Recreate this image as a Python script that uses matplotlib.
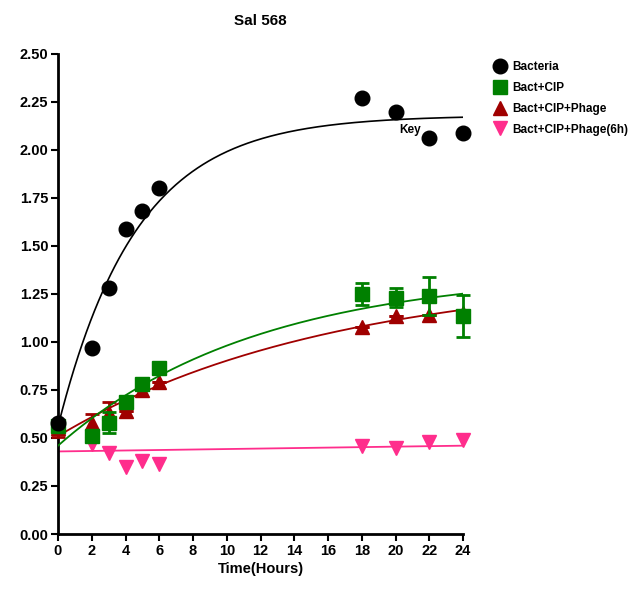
import numpy as np
import matplotlib
matplotlib.use('Agg')
import matplotlib.pyplot as plt
from matplotlib.lines import Line2D

plt.rcParams['font.family'] = ['Liberation Sans', 'DejaVu Sans']
plt.rcParams['font.weight'] = 'bold'

# data
t_bact = [0, 2, 3, 4, 5, 6, 18, 20, 22, 24]
y_bact = [0.58, 0.97, 1.28, 1.59, 1.68, 1.80, 2.27, 2.20, 2.06, 2.09]

t_cip = [0, 2, 3, 4, 5, 6, 18, 20, 22, 24]
y_cip = [0.56, 0.51, 0.58, 0.69, 0.78, 0.865, 1.25, 1.23, 1.24, 1.135]
e_cip = [0.0, 0.0, 0.055, 0.0, 0.0, 0.0, 0.055, 0.05, 0.10, 0.11]

t_phage = [0, 2, 3, 4, 5, 6, 18, 20, 22, 24]
y_phage = [0.55, 0.58, 0.63, 0.64, 0.75, 0.79, 1.08, 1.135, 1.14, 1.15]
e_phage = [0.045, 0.045, 0.06, 0.0, 0.0, 0.0, 0.0, 0.0, 0.0, 0.0]

t_p6 = [2, 3, 4, 5, 6, 18, 20, 22, 24]
y_p6 = [0.47, 0.42, 0.35, 0.38, 0.365, 0.46, 0.45, 0.48, 0.49]

# fitted one-phase curves (Y0, plateau, K) as seen on the chart
fit_bact = (0.56, 2.18, 0.215)
fit_cip = (0.46, 1.37, 0.085)
fit_phage = (0.51, 1.36, 0.062)
fit_p6 = (0.43, 0.46)  # straight line, start / end value

def one_phase(t, p):
    y0, top, k = p
    return top - (top - y0) * np.exp(-k * t)

tt = np.linspace(0, 24, 300)

fig = plt.figure(figsize=(6.32, 5.92), dpi=100)
ax = fig.add_axes([58/632, 1 - 534/592, (463-58)/632, (534-54)/592])

black = '#000000'
green = '#008000'
red = '#a00000'
pink = '#ff2d8c'
ms = 10.5

ax.plot(tt, fit_p6[0] + (fit_p6[1] - fit_p6[0]) * tt / 24, color=pink, lw=1.3, zorder=2)
ax.plot(t_p6, y_p6, 'v', color=pink, ms=ms, zorder=3, clip_on=False)

ax.errorbar(t_phage, y_phage, yerr=e_phage, fmt='^', color=red, ms=ms,
            capsize=5, elinewidth=2, capthick=2, zorder=4, clip_on=False)
ax.plot(tt, one_phase(tt, fit_phage), color=red, lw=1.3, zorder=5)

ax.errorbar(t_cip, y_cip, yerr=e_cip, fmt='s', color=green, ms=ms,
            capsize=5, elinewidth=2, capthick=2, zorder=6, clip_on=False)
ax.plot(tt, one_phase(tt, fit_cip), color=green, lw=1.3, zorder=7)

ax.plot(t_bact, y_bact, 'o', color=black, ms=ms, zorder=8, clip_on=False)
ax.plot(tt, one_phase(tt, fit_bact), color=black, lw=1.2, zorder=9)

ax.text(20.2, 2.09, 'Key', fontsize=8.5, fontweight='bold')

ax.set_xlim(0, 24)
ax.set_ylim(0, 2.5)
ax.set_xticks(range(0, 25, 2))
ax.set_yticks(np.arange(0, 2.51, 0.25))
ax.yaxis.set_major_formatter(matplotlib.ticker.FormatStrFormatter('%.2f'))
ax.spines['top'].set_visible(False)
ax.spines['right'].set_visible(False)
ax.spines['left'].set_linewidth(2)
ax.spines['bottom'].set_linewidth(2)
ax.tick_params(width=1.5, length=5, labelsize=10.5, pad=2)
for lab in ax.get_xticklabels() + ax.get_yticklabels():
    lab.set_fontweight('bold')
ax.set_xlabel('Time(Hours)', fontsize=10.5, fontweight='bold', labelpad=3)
ax.set_title('Sal 568', fontsize=11, fontweight='bold', pad=21)

handles = [
    Line2D([], [], ls='none', marker='o', color=black, ms=ms),
    Line2D([], [], ls='none', marker='s', color=green, ms=ms),
    Line2D([], [], ls='none', marker='^', color=red, ms=ms),
    Line2D([], [], ls='none', marker='v', color=pink, ms=ms),
]
labels = ['Bacteria', 'Bact+CIP', 'Bact+CIP+Phage', 'Bact+CIP+Phage(6h)']
fig.legend(handles, labels, loc='upper left', bbox_to_anchor=(0.765, 0.915),
           frameon=False, prop={'size': 8.5, 'weight': 'bold'},
           handlelength=1.0, handletextpad=0.5, labelspacing=0.75)

fig.savefig('out.png', dpi=100)
